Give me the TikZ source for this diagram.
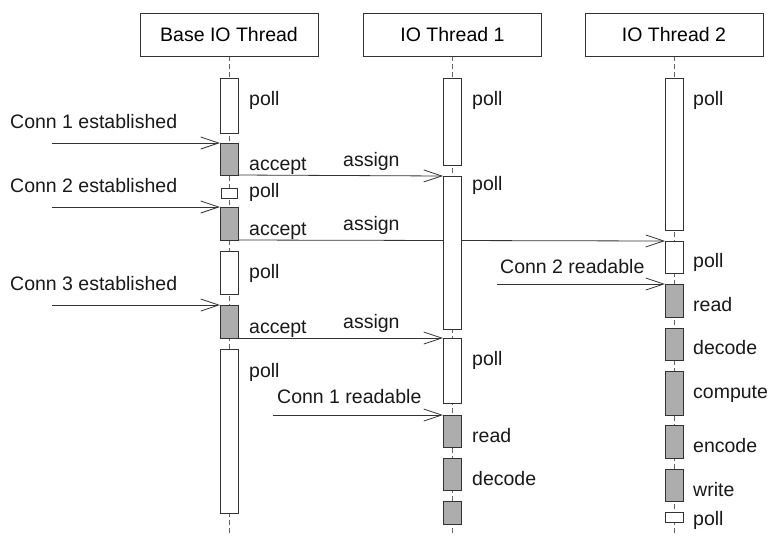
\documentclass[tikz,border=0pt]{standalone}
\usepackage{fontspec}
\setmainfont{Liberation Sans}
\usepackage{tikz}
\usetikzlibrary{positioning,arrows.meta}
\pgfdeclarelayer{back}
\pgfsetlayers{back,main}

\begin{document}
\begin{tikzpicture}[x=1pt,y=-1pt,
	font=\fontsize{19.5}{23}\selectfont,
	head/.style={draw=black!80,line width=0.8pt,minimum width=178pt,minimum height=43pt,inner sep=0pt,outer sep=0pt},
	idle/.style={draw=black!80,fill=white,line width=0.8pt,minimum width=18pt,inner sep=0pt,outer sep=0pt,anchor=north},
	busy/.style={idle,fill=black!32},
	lbl/.style={anchor=base west,inner sep=0pt,text=black!90},
	life/.style={draw=black!60,line width=0.8pt,dash pattern=on 5pt off 3pt},
	msg/.style={draw=black!80,line width=0.8pt,-{Straight Barb[length=18pt,width=12pt]}}]
	\useasboundingbox (0,0) rectangle (783,547);

	% thread heads
	\node[head] (base) at (229,34.5) {Base IO Thread};
	\node[head] (one) at (452.5,34.5) {IO Thread 1};
	\node[head] (two) at (674,34.5) {IO Thread 2};
	\coordinate (end) at (0,535);

	% base thread
	\node[idle,minimum height=55pt] (bpoll1) at (229,78) {};
	\node[busy,minimum height=32pt] (bacc1) at (229,143) {};
	\node[idle,minimum height=10pt,minimum width=16pt] (bpoll2) at (229,188) {};
	\node[busy,minimum height=33pt] (bacc2) at (229,207) {};
	\node[idle,minimum height=43pt] (bpoll3) at (229,251) {};
	\node[busy,minimum height=33pt] (bacc3) at (229,305) {};
	\node[idle,minimum height=164pt] (bpoll4) at (229,349) {};

	% io thread 1
	\node[idle,minimum height=87pt] (t1poll1) at (452,78) {};
	\node[idle,minimum height=153pt] (t1poll2) at (452,176) {};
	\node[idle,minimum height=65pt] (t1poll3) at (452,338) {};
	\node[busy,minimum height=32pt] (t1read) at (452,415) {};
	\node[busy,minimum height=32pt] (t1decode) at (452,458) {};
	\node[busy,minimum height=23pt] (t1next) at (452,501) {};

	% io thread 2
	\node[idle,minimum height=152pt] (t2poll1) at (674,78) {};
	\node[idle,minimum height=32pt] (t2poll2) at (674,241) {};
	\node[busy,minimum height=33pt] (t2read) at (674,284) {};
	\node[busy,minimum height=32pt] (t2decode) at (674,328) {};
	\node[busy,minimum height=44pt] (t2compute) at (674,371) {};
	\node[busy,minimum height=33pt] (t2encode) at (674,425) {};
	\node[busy,minimum height=32pt] (t2write) at (674,469) {};
	\node[idle,minimum height=10pt] (t2poll3) at (674,512) {};

	% sources of events
	\coordinate (c1) at (52,143);
	\coordinate (c2) at (52,207);
	\coordinate (c3) at (52,305);
	\coordinate (r1) at (273,415);
	\coordinate (r2) at (497,284);

	\begin{pgfonlayer}{back}
	% lifelines
	\draw[life] (base.south) -- (base.south |- end);
	\draw[life] (one.south -| t1poll1) -- (t1poll1 |- end);
	\draw[life] (two.south) -- (two.south |- end);
	% messages
	\draw[msg] (c1) -- (bacc1.north west);
	\draw[msg] (bacc1.south east) -- (t1poll2.north west);
	\draw[msg] (c2) -- (bacc2.north west);
	\draw[msg] (bacc2.south east) -- (t2poll2.north west);
	\draw[msg] (c3) -- (bacc3.north west);
	\draw[msg] (bacc3.south east) -- (t1poll3.north west);
	\draw[msg] (r2) -- (t2read.north west);
	\draw[msg] (r1) -- (t1read.north west);
	\end{pgfonlayer}

	% labels
	\node[lbl] at (10,128) {Conn 1 established};
	\node[lbl] at (10,192) {Conn 2 established};
	\node[lbl] at (10,290) {Conn 3 established};
	\node[lbl] at (343,166) {assign};
	\node[lbl] at (343,230) {assign};
	\node[lbl] at (343,328) {assign};
	\node[lbl] at (500,273) {Conn 2 readable};
	\node[lbl] at (277,403) {Conn 1 readable};

	\node[lbl] at (249,105) {poll};
	\node[lbl] at (249,170) {accept};
	\node[lbl] at (249,197) {poll};
	\node[lbl] at (249,235) {accept};
	\node[lbl] at (249,278) {poll};
	\node[lbl] at (249,333) {accept};
	\node[lbl] at (249,377) {poll};

	\node[lbl] at (472,105) {poll};
	\node[lbl] at (472,190) {poll};
	\node[lbl] at (472,365) {poll};
	\node[lbl] at (472,442) {read};
	\node[lbl] at (472,485) {decode};

	\node[lbl] at (693,105) {poll};
	\node[lbl] at (693,267) {poll};
	\node[lbl] at (693,311) {read};
	\node[lbl] at (693,354) {decode};
	\node[lbl] at (693,398) {compute};
	\node[lbl] at (693,452) {encode};
	\node[lbl] at (693,496) {write};
	\node[lbl] at (693,525) {poll};
\end{tikzpicture}
\end{document}
